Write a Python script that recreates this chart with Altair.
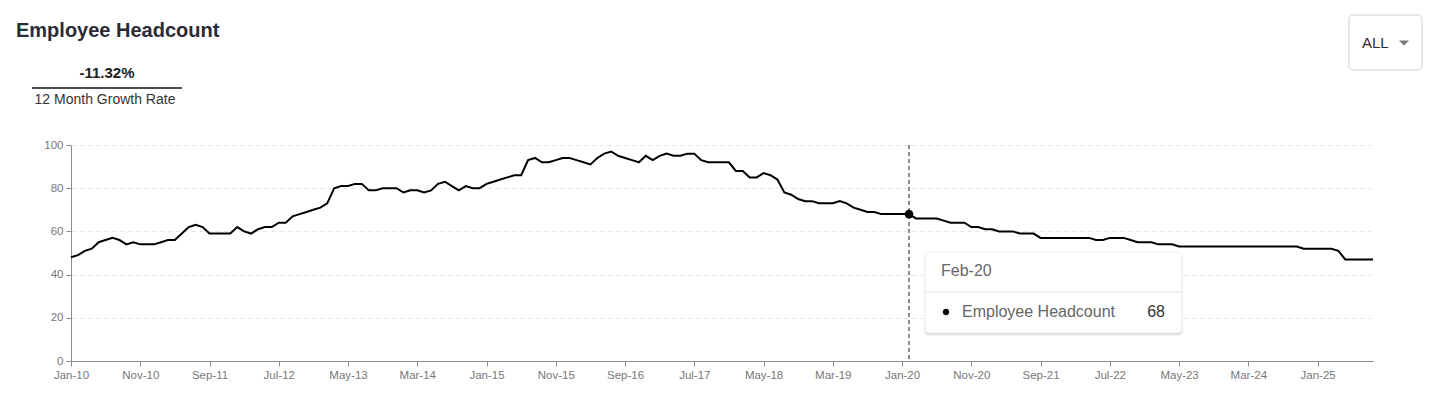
import altair as alt
import pandas as pd

# ---- data -------------------------------------------------------------
start_month = "2010-01-01"
headcount = [
    48, 49, 51, 52, 55, 56, 57, 56, 54, 55, 54, 54,   # 2010
    54, 55, 56, 56, 59, 62, 63, 62, 59, 59, 59, 59,   # 2011
    62, 60, 59, 61, 62, 62, 64, 64, 67, 68, 69, 70,   # 2012
    71, 73, 80, 81, 81, 82, 82, 79, 79, 80, 80, 80,   # 2013
    78, 79, 79, 78, 79, 82, 83, 81, 79, 81, 80, 80,   # 2014
    82, 83, 84, 85, 86, 86, 93, 94, 92, 92, 93, 94,   # 2015
    94, 93, 92, 91, 94, 96, 97, 95, 94, 93, 92, 95,   # 2016
    93, 95, 96, 95, 95, 96, 96, 93, 92, 92, 92, 92,   # 2017
    88, 88, 85, 85, 87, 86, 84, 78, 77, 75, 74, 74,   # 2018
    73, 73, 73, 74, 73, 71, 70, 69, 69, 68, 68, 68,   # 2019
    68, 68, 66, 66, 66, 66, 65, 64, 64, 64, 62, 62,   # 2020
    61, 61, 60, 60, 60, 59, 59, 59, 57, 57, 57, 57,   # 2021
    57, 57, 57, 57, 56, 56, 57, 57, 57, 56, 55, 55,   # 2022
    55, 54, 54, 54, 53, 53, 53, 53, 53, 53, 53, 53,   # 2023
    53, 53, 53, 53, 53, 53, 53, 53, 53, 53, 52, 52,   # 2024
    52, 52, 52, 51, 47, 47, 47, 47, 47,               # 2025
]
months = pd.date_range(start_month, periods=len(headcount), freq="MS").strftime("%b-%y").tolist()
y_ticks = [0, 20, 40, 60, 80, 100]
selected_month = "Feb-20"
series_name = "Employee Headcount"
chart_title = "Employee Headcount"
growth_text = "-11.32%"
growth_label = "12 Month Growth Rate"
range_option = "ALL"

df = pd.DataFrame({"idx": list(range(len(headcount))), "month": months, "headcount": headcount})
sel = df[df["month"] == selected_month]
sel_value = str(int(sel["headcount"].iloc[0]))
one = pd.DataFrame({"k": [0]})

FONT = "Liberation Sans"
W, H = 1302, 216
n_last = len(headcount) - 1

x_enc = alt.X(
    "idx:Q",
    scale=alt.Scale(domain=[0, n_last], nice=False, zero=False),
    axis=alt.Axis(
        values=list(range(0, n_last + 1, 5)),
        labelExpr="datum.value % 10 == 0 ? timeFormat(datetime(2010, datum.value, 1), '%b-%y') : ''",
        title=None, grid=False, domainColor="#8c8c8c", tickColor="#8c8c8c",
        tickSize=5, labelPadding=3, labelColor="#777777", labelFontSize=11.5,
        labelFont=FONT, labelFlush=False, labelOverlap=False,
    ),
)
y_enc = alt.Y(
    "headcount:Q",
    scale=alt.Scale(domain=[0, 100], nice=False),
    axis=alt.Axis(
        values=y_ticks, title=None, grid=True, gridDash=[4, 4], gridColor="#e6e6e6",
        domainColor="#8c8c8c", tickColor="#8c8c8c", tickSize=5, labelPadding=3,
        labelColor="#777777", labelFontSize=11.5, labelFont=FONT,
    ),
)

line = alt.Chart(df).mark_line(color="#000000", strokeWidth=2, clip=False).encode(x=x_enc, y=y_enc)

vrule = alt.Chart(sel).mark_rule(color="#666666", strokeDash=[4, 3], strokeWidth=1.5).encode(
    x="idx:Q"
)
dot = alt.Chart(sel).mark_circle(color="#000000", size=75, opacity=1).encode(x="idx:Q", y="headcount:Q")


def txt(text, x, y, size, color="#333333", weight="normal", align="left"):
    return alt.Chart(one).mark_text(
        text=text, fontSize=size, font=FONT, color=color, fontWeight=weight,
        align=align, baseline="middle",
    ).encode(x=alt.value(x), y=alt.value(y))


def box(x, x2, y, y2, fill="#ffffff", stroke=None, radius=4, opacity=1.0):
    kw = dict(fill=fill, cornerRadius=radius, opacity=opacity)
    if stroke:
        kw.update(stroke=stroke, strokeWidth=1)
    return alt.Chart(one).mark_rect(**kw).encode(
        x=alt.value(x), x2=alt.value(x2), y=alt.value(y), y2=alt.value(y2)
    )


OX, OY = 71, 145  # plot origin on page

# header
title = txt(chart_title, 16 - OX, 31 - OY, 20, color="#2b2b36", weight="bold")
growth = txt(growth_text, 107 - OX, 73 - OY, 15, color="#222222", weight="bold", align="center")
underline = alt.Chart(one).mark_rule(color="#111111", strokeWidth=1.5).encode(
    x=alt.value(32 - OX), x2=alt.value(182 - OX), y=alt.value(88 - OY)
)
growth_lbl = txt(growth_label, 105 - OX, 100 - OY, 14, color="#333333", align="center")

# dropdown
dd_box = box(1349 - OX, 1422 - OX, 15 - OY, 70 - OY, stroke="#cfcfcf")
dd_text = txt(range_option, 1362 - OX, 43 - OY, 15, color="#2b2b36")
dd_caret = alt.Chart(one).mark_point(
    shape="M-1,-0.5L1,-0.5L0,0.5Z", filled=True, color="#777777", size=100, opacity=1
).encode(x=alt.value(1404 - OX), y=alt.value(43 - OY))

# tooltip
tx0, tx1, ty0, ty1 = 925 - OX, 1182 - OX, 252 - OY, 333 - OY
tt_shadow2 = box(tx0 - 1, tx1 + 1, ty0 + 1, ty1 + 3, fill="#000000", opacity=0.06, radius=5)
tt_shadow = box(tx0, tx1, ty0 + 1, ty1 + 1.5, fill="#000000", opacity=0.10)
tt_box = box(tx0, tx1, ty0, ty1, fill="#ffffff", stroke="#ececec")
tt_div = alt.Chart(one).mark_rule(color="#e3e3e3", strokeWidth=1).encode(
    x=alt.value(tx0), x2=alt.value(tx1), y=alt.value(292 - OY)
)
tt_head = txt(selected_month, 941 - OX, 271 - OY, 16, color="#666666")
tt_dot = alt.Chart(one).mark_circle(color="#000000", size=55, opacity=1, stroke="#ffffff", strokeWidth=1).encode(
    x=alt.value(946 - OX), y=alt.value(312 - OY)
)
tt_name = txt(series_name, 962 - OX, 312 - OY, 16, color="#666666")
tt_val = txt(sel_value, 1165 - OX, 312 - OY, 16, color="#333333", align="right")

chart = alt.layer(
    line, vrule, dot,
    title, growth, underline, growth_lbl,
    dd_box, dd_text, dd_caret,
    tt_shadow2, tt_shadow, tt_box, tt_div, tt_head, tt_dot, tt_name, tt_val,
).properties(
    width=W, height=H,
    autosize=alt.AutoSizeParams(type="none"),
    padding={"left": OX - 8, "top": OY - 8, "right": 50, "bottom": 30},
    background="#ffffff",
).configure_view(stroke=None)

chart.save("out.html", embed_options={"renderer": "svg", "actions": False})
